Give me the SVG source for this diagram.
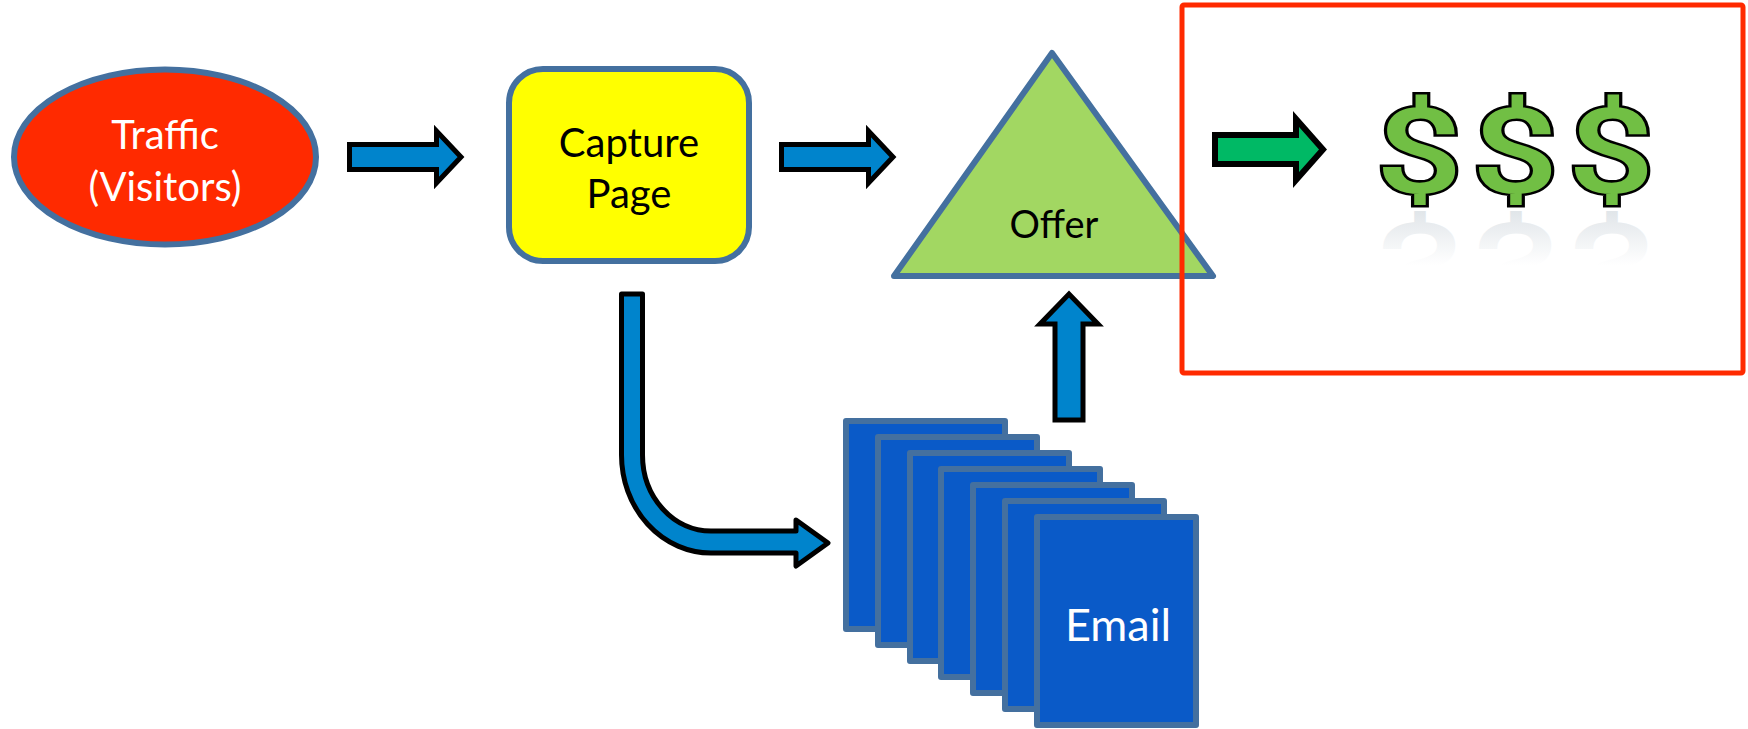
<svg xmlns="http://www.w3.org/2000/svg" width="1748" height="729" viewBox="0 0 1748 729">
<defs>
<linearGradient id="refl" gradientUnits="userSpaceOnUse" x1="0" y1="15" x2="0" y2="-42"><stop offset="0" stop-color="#dfe4e8"/><stop offset="1" stop-color="#ffffff"/></linearGradient>
</defs>
<style>
.n{stroke:#44709f;stroke-width:6;stroke-linejoin:round}
.m{fill:#0a5ac8}
.t{font-family:Lato,"Open Sans","Liberation Sans",sans-serif;font-size:40px;text-anchor:middle}
.a{fill:#0084cc;stroke:#000;stroke-width:5;stroke-linejoin:miter}
.d{font-family:Roboto,"Liberation Sans",sans-serif;font-size:118px;font-weight:500;text-anchor:middle}
.s{fill:#71bf44;stroke:#000;stroke-width:5;paint-order:stroke}
.f{fill:url(#refl);stroke:none}
</style>
<g id="connectors">
<path class="a" d="M349.500 144.500H436.500V131L461 157L436.500 183V169.500H349.500Z"/>
<path class="a" d="M781.500 144.500H868.500V131L893 157L868.500 183V169.500H781.500Z"/>
<path class="a" d="M1055 420V324H1040L1069 294L1098 324H1083V420Z"/>
<path class="a" style="stroke-linejoin:round" d="M621.500 294H642.500V455A68.500 76 0 0 0 711 531H796V520L828 543L796 566V553H711A89.500 98 0 0 1 621.500 455Z"/>
<path class="a" style="fill:#00b965;stroke-width:6" d="M1215 135H1296V119L1323 149.500L1296 180V164H1215Z"/>
</g>
<g id="traffic"><ellipse class="n" cx="165" cy="157" rx="151" ry="87.500" fill="#ff2a00"/><text class="t" fill="#fff" x="165" y="149">Traffic</text><text class="t" fill="#fff" x="165" y="201">(Visitors)</text></g>
<g id="capture"><rect class="n" x="509" y="69" width="240" height="192" rx="34" fill="#ffff00"/><text class="t" x="629" y="157">Capture</text><text class="t" x="629" y="208">Page</text></g>
<g id="offer"><path class="n" d="M1052 53L1213 276H894Z" fill="#a2d762"/><text class="t" x="1054" y="238" style="font-size:38px">Offer</text></g>
<g id="emails">
<rect class="n m" x="846" y="421" width="159" height="208"/>
<rect class="n m" x="878" y="437" width="159" height="208"/>
<rect class="n m" x="910" y="453" width="159" height="208"/>
<rect class="n m" x="941" y="469" width="159" height="208"/>
<rect class="n m" x="973" y="485" width="159" height="208"/>
<rect class="n m" x="1005" y="501" width="159" height="208"/>
<rect class="n m" x="1037" y="517" width="159" height="208"/>
<text class="t" fill="#fff" x="1118" y="641" style="font-size:45px">Email</text>
</g>
<g id="box"><rect x="1182" y="5" width="561" height="368" rx="2" fill="none" stroke="#ff2a00" stroke-width="5"/></g>
<g id="money">
<g class="s">
<text id="d1" class="d" transform="translate(1419 193) scale(1.3 1)">$</text>
<text id="d2" class="d" transform="translate(1515 193) scale(1.3 1)">$</text>
<text id="d3" class="d" transform="translate(1611 193) scale(1.3 1)">$</text>
</g>
<g class="f">
<use href="#d1" transform="matrix(1 0 0 -1 0 416)"/>
<use href="#d2" transform="matrix(1 0 0 -1 0 416)"/>
<use href="#d3" transform="matrix(1 0 0 -1 0 416)"/>
</g>
</g>
</svg>
